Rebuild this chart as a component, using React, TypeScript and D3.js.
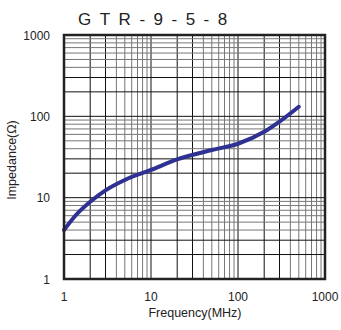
import React from "react";
import * as d3 from "d3";

const title = "GTR-9-5-8";
const freq = [1, 1.35, 2, 3, 5, 10, 20, 50, 100, 200, 300, 500];
const imp = [4, 6, 8.9, 12.3, 16.5, 21.9, 29.5, 38.5, 46, 64.5, 86, 131];
const xTicks = [1, 10, 100, 1000];
const yTicks = [1, 10, 100, 1000];
const xLabel = "Frequency(MHz)";
const yLabel = "Impedance(Ω)";

const W = 341, H = 330;
const L = 64, R = 325, T = 35, B = 279;

export default function App() {
  const x = d3.scaleLog().domain([1, 1000]).range([L, R]);
  const y = d3.scaleLog().domain([1, 1000]).range([B, T]);
  const minors: { v: number; dark: boolean }[] = [];
  for (const dec of [1, 10, 100]) {
    for (let m = 2; m <= 9; m++) minors.push({ v: dec * m, dark: m <= 3 });
  }
  for (const dec of [10, 100]) minors.push({ v: dec, dark: true });
  const line = d3
    .line<number>()
    .x((_, i) => x(freq[i]))
    .y((d) => y(d))
    .curve(d3.curveMonotoneX);
  const font = "'Liberation Sans', Arial, sans-serif";
  return (
    <svg width={W} height={H} style={{ position: "absolute", left: 0, top: 0 }}>
      <rect width={W} height={H} fill="#fff" />
      <text x={78} y={25} fontFamily={font} fontSize={17} letterSpacing={8.5} fill="#222">
        {title}
      </text>
      {minors.map((m, i) => (
        <line key={"v" + i} x1={x(m.v)} x2={x(m.v)} y1={T} y2={B}
          stroke={m.dark ? "#111" : "#777"} strokeWidth={1} />
      ))}
      {minors.map((m, i) => (
        <line key={"h" + i} x1={L} x2={R} y1={y(m.v)} y2={y(m.v)}
          stroke={m.dark ? "#111" : "#777"} strokeWidth={1} />
      ))}
      <path d={line(imp) || ""} fill="none" stroke="#2e3192" strokeWidth={4} strokeLinecap="round" />
      <rect x={L} y={T} width={R - L} height={B - T} fill="none" stroke="#222" strokeWidth={2.5} />
      {xTicks.map((t) => (
        <text key={"xt" + t} x={x(t)} y={301} textAnchor="middle" fontFamily={font} fontSize={12} fill="#222">
          {t}
        </text>
      ))}
      {yTicks.map((t) => (
        <text key={"yt" + t} x={50} y={y(t) + 4.5} textAnchor="end" fontFamily={font} fontSize={12} fill="#222">
          {t}
        </text>
      ))}
      <text x={195} y={317} textAnchor="middle" fontFamily={font} fontSize={12.5} fill="#222">
        {xLabel}
      </text>
      <text transform={`translate(16,160) rotate(-90)`} textAnchor="middle" fontFamily={font} fontSize={12.5} fill="#222">
        {yLabel}
      </text>
    </svg>
  );
}
